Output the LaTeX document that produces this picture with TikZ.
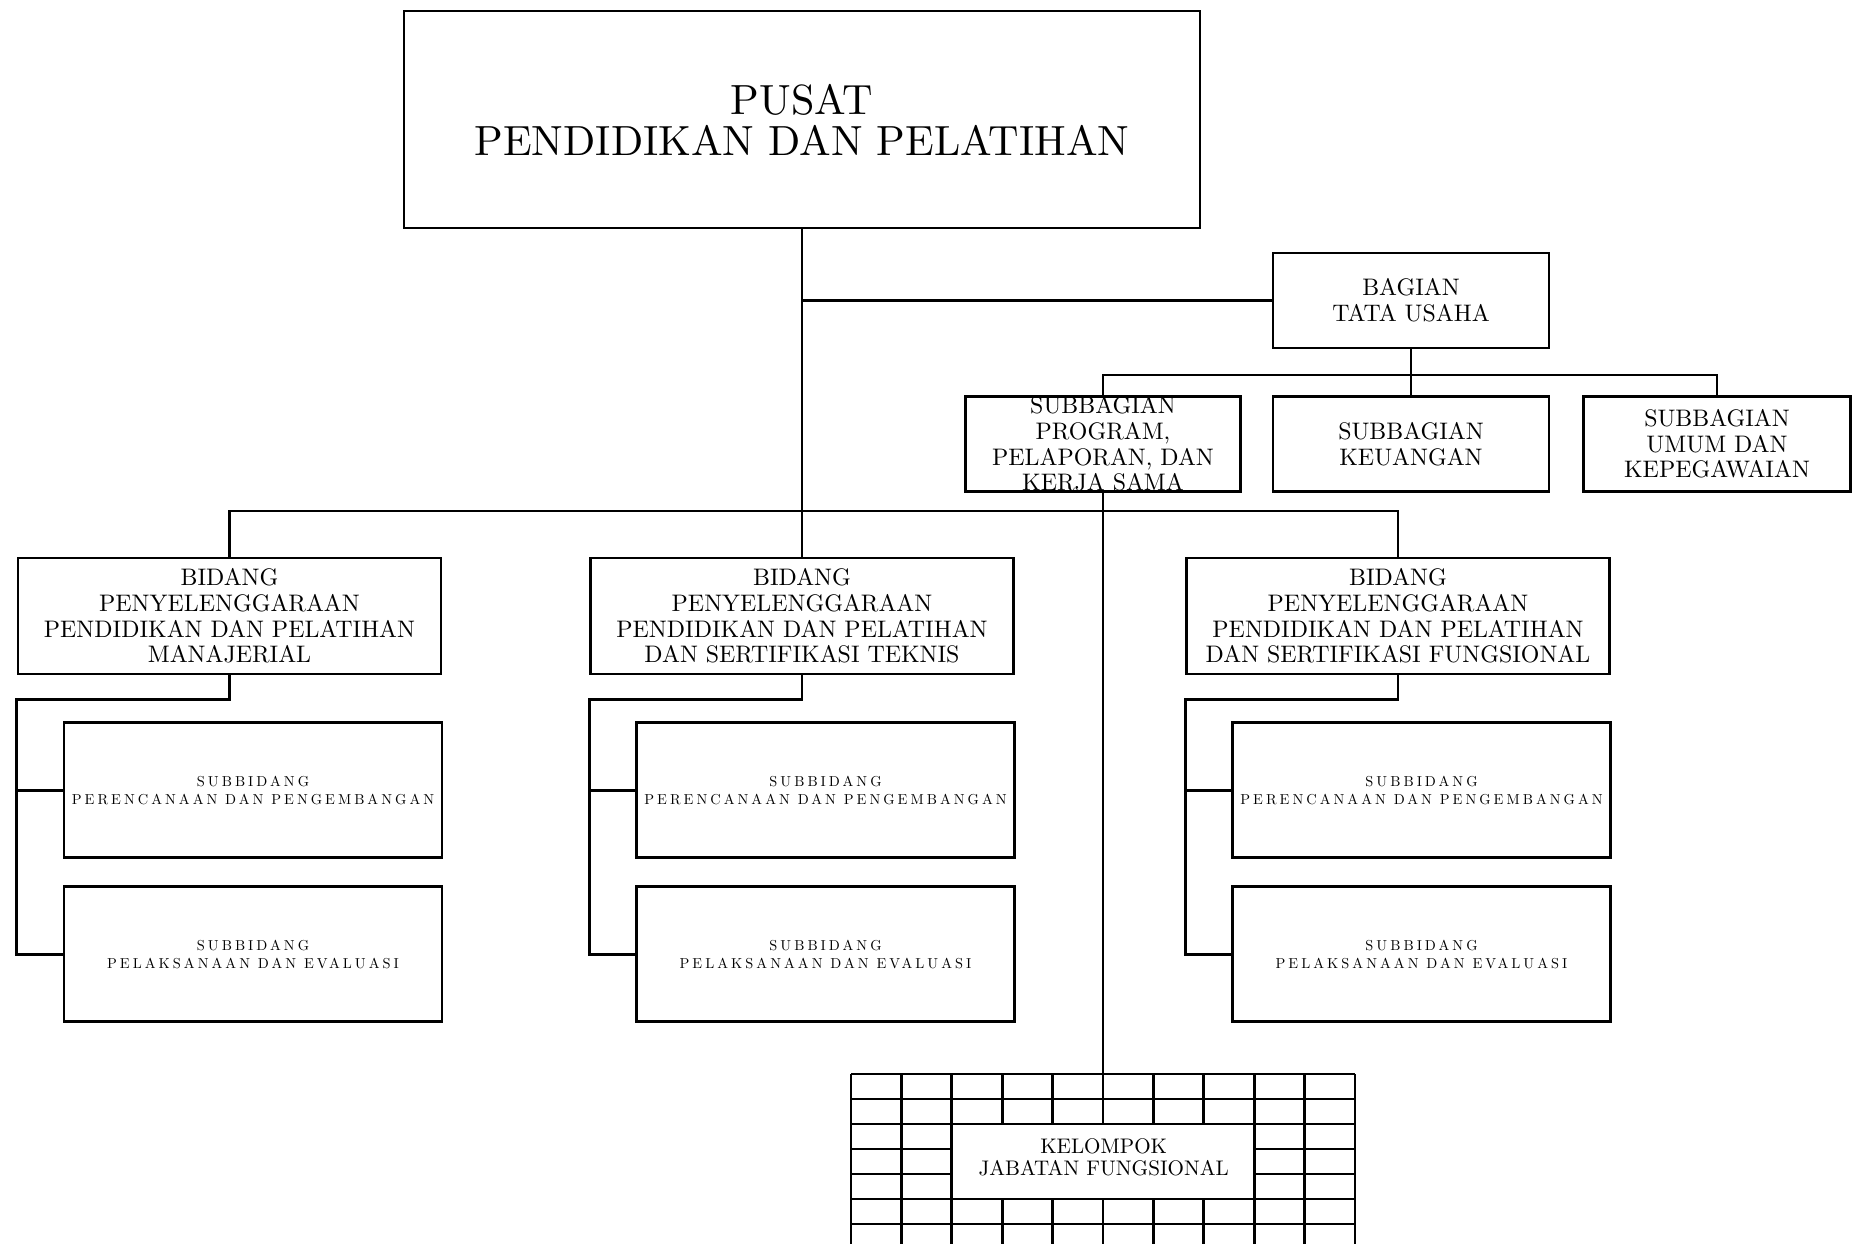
\documentclass[tikz,border=0pt]{standalone}
\usepackage{fontspec}
\setmainfont{Latin Modern Roman}[OpticalSize=10]
\usetikzlibrary{positioning, calc}
\tikzset{
  unit/.style={rectangle, draw=black, line width=0.8pt, fill=white, align=center,
               inner sep=0pt, minimum width=#1},
  unit/.default=2.76cm,
  headbox/.style={unit=7.96cm, minimum height=2.17cm, font=\fontsize{12}{11.6}\selectfont},
  bagbox/.style={unit=#1, minimum height=0.95cm, font=\fontsize{6.8}{7.3}\selectfont},
  bagbox/.default=2.76cm,
  bidbox/.style={unit=4.23cm, minimum height=1.16cm, font=\fontsize{6.8}{7.3}\selectfont},
  subbox/.style={unit=3.78cm, minimum height=1.35cm,
                 font=\fontsize{4.1}{5.2}\selectfont\addfontfeature{LetterSpace=21}},
  link/.style={line width=0.8pt},
}

\begin{document}
\begin{tikzpicture}
\useasboundingbox (0,0) rectangle (18.54,-12.43);
\fill[white] (0,0) rectangle (18.54,-12.43);
\clip (0,0) rectangle (18.54,-12.43);

% pusat
\node[headbox] (pusat) at (8.02,-1.195) {PUSAT\\PENDIDIKAN DAN PELATIHAN};

% tata usaha
\node[bagbox] (bagian) at (14.11,-3.005) {BAGIAN\\TATA USAHA};
\node[bagbox=2.75cm] (sbprog) at (11.03,-4.44) {};
\node[font=\fontsize{6.8}{7.3}\selectfont, align=center, inner sep=0pt] (sbprogtxt) at (sbprog.center)
     {SUBBAGIAN\\PROGRAM,\\PELAPORAN, DAN\\KERJA SAMA};
\node[bagbox] (sbkeu) at (14.11,-4.44) {SUBBAGIAN\\KEUANGAN};
\node[bagbox=2.67cm] (sbumum) at (17.17,-4.44) {SUBBAGIAN\\UMUM DAN\\KEPEGAWAIAN};

% bidang
\node[bidbox] (b1) at (2.295,-6.16)
     {BIDANG\\PENYELENGGARAAN\\PENDIDIKAN DAN PELATIHAN\\MANAJERIAL};
\node[bidbox] (b2) at (8.02,-6.16)
     {BIDANG\\PENYELENGGARAAN\\PENDIDIKAN DAN PELATIHAN\\DAN SERTIFIKASI TEKNIS};
\node[bidbox] (b3) at (13.98,-6.16)
     {BIDANG\\PENYELENGGARAAN\\PENDIDIKAN DAN PELATIHAN\\DAN SERTIFIKASI FUNGSIONAL};

% subbidang
\foreach \bid in {b1,b2,b3} {
  \node[subbox, anchor=north west] (\bid p) at ($(\bid.south west)+(0.46,-0.46)$)
       {SUBBIDANG\\PERENCANAAN DAN PENGEMBANGAN};
  \node[subbox, below=0.26cm of \bid p] (\bid e) {SUBBIDANG\\PELAKSANAAN DAN EVALUASI};
}

% kelompok jabatan fungsional
\node[minimum width=5.04cm, minimum height=1.75cm, inner sep=0pt, anchor=north west]
     (kjfgrid) at (8.51,-10.74) {};
\foreach \c in {0,1,2,8,9,10}
  \draw[link] ($(kjfgrid.north west)+(\c*0.504,0)$) -- ++(0,-1.75);
\foreach \c in {3,...,7} {
  \draw[link] ($(kjfgrid.north west)+(\c*0.504,0)$) -- ++(0,-0.5);
  \draw[link] ($(kjfgrid.north west)+(\c*0.504,-1.25)$) -- ++(0,-0.5);
}
\foreach \r in {0,1,2,5,6}
  \draw[link] ($(kjfgrid.north west)+(0,-\r*0.25)$) -- ++(5.04,0);
\foreach \r in {3,4} {
  \draw[link] ($(kjfgrid.north west)+(0,-\r*0.25)$) -- ++(1.008,0);
  \draw[link] ($(kjfgrid.north west)+(4.032,-\r*0.25)$) -- ++(1.008,0);
}
\node[font=\fontsize{6}{6.3}\selectfont, align=center, inner sep=0pt] (kjf)
     at ($(kjfgrid.north)+(0,-0.83)$) {KELOMPOK\\JABATAN FUNGSIONAL};

% connectors
\coordinate (tubus) at (14.11,-3.75);
\coordinate (bdbus) at (8.02,-5.11);
\draw[link] (pusat.south) -- (b2.north);
\draw[link] (pusat.south |- bagian.west) -- (bagian.west);
\draw[link] (bagian.south) -- (sbkeu.north);
\draw[link] (sbprog.north) |- (tubus) -| (sbumum.north);
\draw[link] (b1.north) |- (bdbus) -| (b3.north);
\draw[link] (sbprog.south) -- (sbprog.south |- kjfgrid.north);
\foreach \bid in {b1,b2,b3} {
  \coordinate (\bid r) at ($(\bid.south west)+(0,-0.24)$);
  \draw[link] (\bid.south) |- (\bid r) |- (\bid e.west);
  \draw[link] (\bid r |- \bid p.west) -- (\bid p.west);
}
\end{tikzpicture}
\end{document}
